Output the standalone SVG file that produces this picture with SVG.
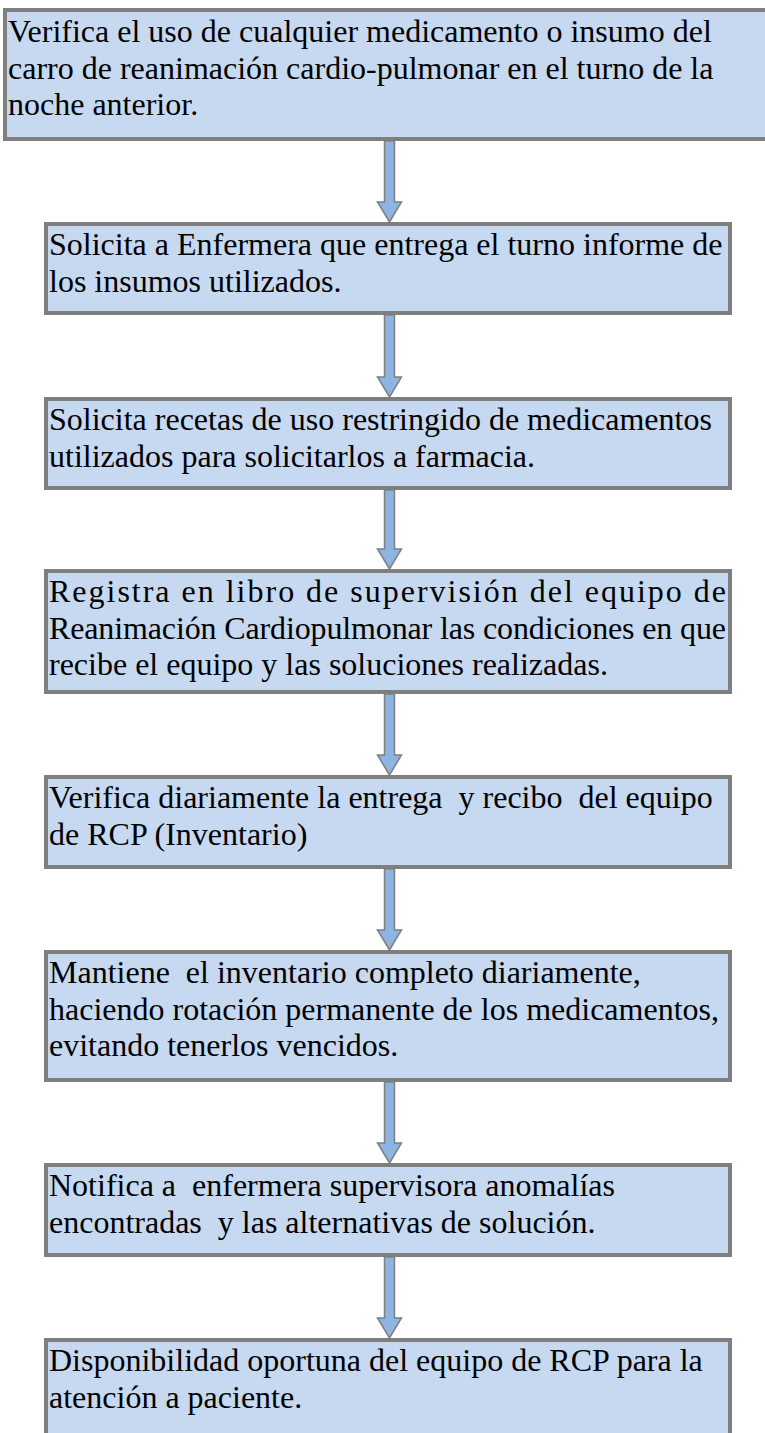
<svg xmlns="http://www.w3.org/2000/svg" width="765" height="1433" viewBox="0 0 765 1433">
<style>
.box{fill:#c6d9f1;stroke:#7f7f7f;stroke-width:4}
.arr{fill:#8eb4e3;stroke:#7f7f7f;stroke-width:1.5}
text{font-family:"Liberation Serif","Times New Roman",serif;font-size:32px;fill:#000;white-space:pre}
</style>
<rect width="765" height="1433" fill="#fff"/>
<g id="connectors">
<path class="arr" d="M384.5,141 H394.5 V202 H401.5 L389.5,222 L377.5,202 H384.5 Z"/>
<path class="arr" d="M384.5,315 H394.5 V377 H401.5 L389.5,397 L377.5,377 H384.5 Z"/>
<path class="arr" d="M384.5,490 H394.5 V549 H401.5 L389.5,569 L377.5,549 H384.5 Z"/>
<path class="arr" d="M384.5,694 H394.5 V755 H401.5 L389.5,775 L377.5,755 H384.5 Z"/>
<path class="arr" d="M384.5,869 H394.5 V930 H401.5 L389.5,950 L377.5,930 H384.5 Z"/>
<path class="arr" d="M384.5,1082 H394.5 V1143 H401.5 L389.5,1163 L377.5,1143 H384.5 Z"/>
<path class="arr" d="M384.5,1257 H394.5 V1318 H401.5 L389.5,1338 L377.5,1318 H384.5 Z"/>
</g>
<g id="n1">
<rect class="box" x="5" y="10" width="775" height="129"/>
<text x="8" y="42">Verifica el uso de cualquier medicamento o insumo del</text>
<text x="8" y="78.5">carro de reanimación cardio-pulmonar en el turno de la</text>
<text x="8" y="115">noche anterior.</text>
</g>
<g id="n2">
<rect class="box" x="46" y="224" width="684" height="89"/>
<text x="49" y="255">Solicita a Enfermera que entrega el turno informe de</text>
<text x="49" y="291.5">los insumos utilizados.</text>
</g>
<g id="n3">
<rect class="box" x="46" y="399" width="684" height="89"/>
<text x="49" y="430">Solicita recetas de uso restringido de medicamentos</text>
<text x="49" y="466.5">utilizados para solicitarlos a farmacia.</text>
</g>
<g id="n4">
<rect class="box" x="46" y="571" width="684" height="121"/>
<text x="49" y="602" textLength="677" lengthAdjust="spacing">Registra en libro de supervisión del equipo de</text>
<text x="49" y="638.5" textLength="677" lengthAdjust="spacing">Reanimación Cardiopulmonar las condiciones en que</text>
<text x="49" y="675">recibe el equipo y las soluciones realizadas.</text>
</g>
<g id="n5">
<rect class="box" x="46" y="777" width="684" height="90"/>
<text x="49" y="808">Verifica diariamente la entrega  y recibo  del equipo</text>
<text x="49" y="844.5">de RCP (Inventario)</text>
</g>
<g id="n6">
<rect class="box" x="46" y="952" width="684" height="128"/>
<text x="49" y="983">Mantiene  el inventario completo diariamente,</text>
<text x="49" y="1019.5">haciendo rotación permanente de los medicamentos,</text>
<text x="49" y="1056">evitando tenerlos vencidos.</text>
</g>
<g id="n7">
<rect class="box" x="46" y="1165" width="684" height="90"/>
<text x="49" y="1196">Notifica a  enfermera supervisora anomalías</text>
<text x="49" y="1232.5">encontradas  y las alternativas de solución.</text>
</g>
<g id="n8">
<rect class="box" x="46" y="1340" width="684" height="110"/>
<text x="49" y="1371">Disponibilidad oportuna del equipo de RCP para la</text>
<text x="49" y="1407.5">atención a paciente.</text>
</g>
</svg>
